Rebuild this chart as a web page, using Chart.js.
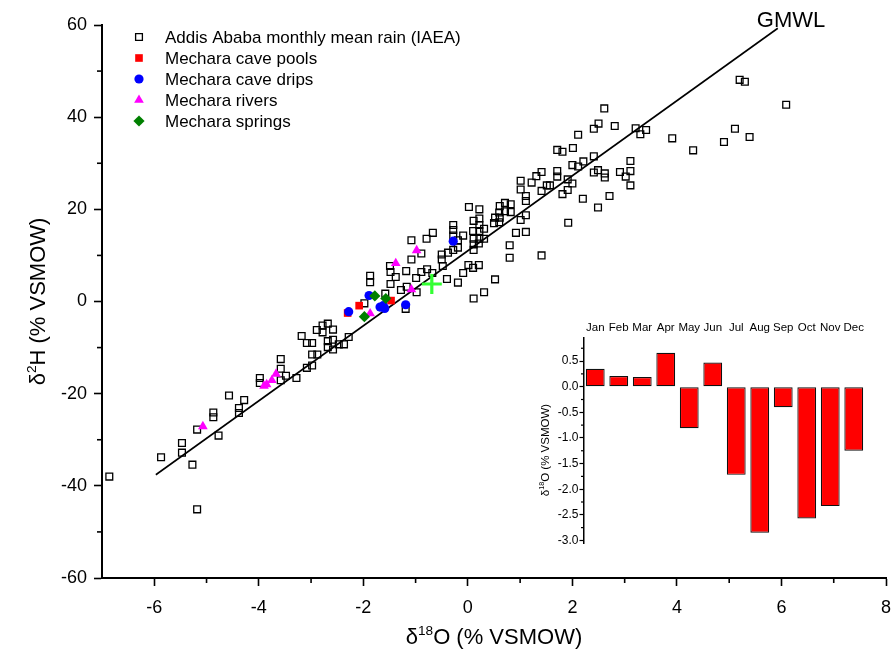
<!DOCTYPE html>
<html><head><meta charset="utf-8">
<script src="https://cdn.jsdelivr.net/npm/chart.js@4"></script>
<style>
html,body{margin:0;padding:0;background:#fff;}
#wrap{position:relative;width:892px;height:661px;}
#main{position:absolute;left:0;top:0;width:892px;height:661px;}
#inset{position:absolute;left:520px;top:310px;width:360px;height:240px;}
</style></head><body>
<div id="wrap"><canvas id="main" width="892" height="661"></canvas><canvas id="inset" width="360" height="240"></canvas></div>
<script>
// ---------- DATA ----------
const rainX = [-6.86,-5.87,-5.47,-5.47,-5.27,-5.18,-5.18,-4.77,-4.87,-4.87,-4.57,-4.38,-4.38,-4.28,-3.98,-3.98,-3.58,-3.58,-3.58,-3.48,-3.28,-3.18,-3.08,-2.98,-2.98,-2.88,-3.08,-2.98,-2.89,-2.78,-2.78,-2.68,-2.58,-2.68,-2.58,-2.68,-2.58,-2.47,-2.37,-2.28,
 -1.98,-1.87,-1.87,-1.58,-1.49,-1.48,-1.38,-1.48,-1.28,-1.18,-1.08,-1.08,-1.19,-0.99,-0.89,-0.89,-0.79,-0.67,-0.78,-0.68,-0.50,-0.50,-0.48,-0.40,-0.98,-1.17,
 -0.28,-0.28,-0.28,-0.09,-0.19,-0.19,-0.28,-0.38,0.01,0.10,0.21,-0.09,-0.19,0.02,0.22,0.22,0.11,0.22,0.31,0.10,0.22,0.11,0.22,0.31,0.11,0.21,0.11,
 0.61,0.71,0.82,0.71,0.82,0.60,0.52,0.61,0.50,0.60,0.80,0.80,0.52,0.31,0.11,1.01,1.01,1.11,1.11,1.11,1.01,1.11,0.92,1.22,1.41,1.31,1.51,1.41,1.41,1.57,
 1.71,1.71,1.91,2.00,1.91,1.81,1.92,1.71,1.81,2.01,2.00,2.11,2.21,2.41,2.49,2.41,2.62,2.62,2.49,2.20,2.11,2.41,2.50,2.61,2.81,3.21,3.30,3.41,3.11,2.91,3.02,3.11,3.11,2.71,
 3.91,4.31,4.90,5.11,5.39,5.20,5.30,6.09];
const rainY = [-38.0,-33.8,-30.7,-32.8,-35.4,-27.8,-45.1,-29.1,-24.1,-25.1,-20.4,-23.1,-24.2,-21.4,-16.6,-17.7,-12.5,-14.6,-17.1,-16.1,-16.6,-7.5,-9.0,-9.0,-11.5,-11.5,-14.4,-13.9,-6.2,-5.2,-6.7,-4.8,-6.1,-8.6,-8.3,-9.9,-10.4,-9.3,-9.3,-7.7,
 -0.4,5.6,4.2,1.7,7.7,6.4,5.3,3.8,2.5,6.6,9.1,13.3,-1.6,5.1,6.4,10.4,13.6,14.9,7.0,6.2,10.2,9.1,7.7,4.9,2.0,3.2,
 16.6,15.5,14.3,14.3,13.3,11.7,11.2,10.6,7.9,7.3,7.9,6.2,4.1,20.5,20.0,18.0,17.5,16.6,15.8,15.3,15.3,13.6,13.6,13.6,12.4,12.6,11.2,
 20.7,21.4,21.1,19.6,19.4,19.3,18.2,18.2,17.0,17.2,12.2,9.5,4.8,2.0,0.65,26.2,24.3,22.9,21.8,18.7,17.7,15.1,14.9,25.8,28.1,27.2,25.2,24.0,10.0,25.2,
 28.3,27.1,26.5,25.6,24.2,23.3,17.1,32.9,32.5,33.3,29.6,29.3,30.4,31.5,28.5,28.0,27.8,26.9,20.4,22.3,36.2,37.5,38.6,41.9,38.1,37.6,36.3,37.2,30.5,28.1,27.1,28.3,25.2,22.9,
 35.4,32.8,34.6,37.5,35.7,48.1,47.7,42.7];

const poolsX = [-2.30, -2.08, -1.47];
const poolsY = [-2.5, -0.9, 0.2];
const dripsX = [-2.28, -1.89, -1.68, -1.59, -1.62, -1.19, -0.28];
const dripsY = [-2.2, 1.3, -1.2, -1.5, -0.9, -0.7, 13.1];
const riversX = [-5.07, -3.90, -3.85, -3.75, -3.67, -1.87, -1.38, -0.98, -1.08];
const riversY = [-27.1, -18.3, -18.0, -17.1, -15.7, -2.6, 8.3, 11.1, 2.6];
const springsX = [-1.78, -1.57, -1.98];
const springsY = [1.2, 0.65, -3.3];
const meanX = [-0.69];
const meanY = [3.8];
const gmwlX = [-5.97, 5.93];
const gmwlY = [-37.6, 59.3];

const xTicks = [-6, -4, -2, 0, 2, 4, 6, 8];
const xMinorTicks = [-5, -3, -1, 1, 3, 5, 7];
const yTicks = [-60, -40, -20, 0, 20, 40, 60];
const yMinorTicks = [-50, -30, -10, 10, 30, 50];

const months = ['Jan','Feb','Mar','Apr','May','Jun','Jul','Aug','Sep','Oct','Nov','Dec'];
const monthlyO18 = [0.35, 0.21, 0.19, 0.66, -0.81, 0.47, -1.72, -2.85, -0.40, -2.57, -2.33, -1.25];
const insetTicks = [-3.0, -2.5, -2.0, -1.5, -1.0, -0.5, 0.0, 0.5];
const insetMinorTicks = [-2.75, -2.25, -1.75, -1.25, -0.75, -0.25, 0.25, 0.75];

// ---------- HELPERS ----------
const FONT = "'Liberation Sans', Arial, sans-serif";
Chart.defaults.font.family = FONT;
Chart.defaults.color = '#000';
const toPts = (xs, ys) => xs.map((x, i) => ({x: x, y: ys[i]}));

function drawSupText(ctx, parts, cx, cy, size, rot) {
  ctx.save();
  ctx.translate(cx, cy);
  if (rot) ctx.rotate(rot);
  ctx.fillStyle = '#000';
  ctx.textBaseline = 'alphabetic';
  ctx.textAlign = 'left';
  let total = 0;
  const ws = parts.map(p => {
    ctx.font = (p.sup ? size * 0.62 : size) + 'px ' + FONT;
    const w = ctx.measureText(p.t).width; total += w; return w;
  });
  let x = -total / 2;
  const base = size * 0.36;
  parts.forEach((p, i) => {
    ctx.font = (p.sup ? size * 0.62 : size) + 'px ' + FONT;
    ctx.fillText(p.t, x, p.sup ? base - size * 0.42 : base);
    x += ws[i];
  });
  ctx.restore();
}

function pointAt(ctx, style, radius, x, y, fill, stroke, bw) {
  ctx.save();
  ctx.fillStyle = fill; ctx.strokeStyle = stroke; ctx.lineWidth = bw;
  Chart.helpers.drawPoint(ctx, {pointStyle: style, radius: radius, rotation: 0, borderWidth: bw}, x, y);
  ctx.restore();
}

const series = [
  {label: 'Addis Ababa monthly mean rain (IAEA)', style: 'rect', r: 4.8, fill: 'rgba(0,0,0,0)', stroke: '#000', bw: 1.3},
  {label: 'Mechara cave pools', style: 'rect', r: 5.4, fill: '#ff0000', stroke: '#ff0000', bw: 0},
  {label: 'Mechara cave drips', style: 'circle', r: 4.6, fill: '#0000ff', stroke: '#0000ff', bw: 0},
  {label: 'Mechara rivers', style: 'triangle', r: 5.6, fill: '#ff00ff', stroke: '#ff00ff', bw: 0},
  {label: 'Mechara springs', style: 'rectRot', r: 5.6, fill: '#008000', stroke: '#008000', bw: 0}
];

const mainDecor = {
  id: 'mainDecor',
  afterDraw(chart) {
    const ctx = chart.ctx, xs = chart.scales.x, ys = chart.scales.y;
    const a = chart.chartArea;
    ctx.save();
    ctx.strokeStyle = '#000'; ctx.lineWidth = 1.6;
    xMinorTicks.forEach(v => { const px = xs.getPixelForValue(v); ctx.beginPath(); ctx.moveTo(px, a.bottom); ctx.lineTo(px, a.bottom + 5); ctx.stroke(); });
    yMinorTicks.forEach(v => { const py = ys.getPixelForValue(v); ctx.beginPath(); ctx.moveTo(a.left, py); ctx.lineTo(a.left - 5, py); ctx.stroke(); });
    ctx.restore();
    // axis titles
    drawSupText(ctx, [{t:'\u03B4'},{t:'18',sup:true},{t:'O (% VSMOW)'}], (a.left + a.right) / 2, 636, 22, 0);
    drawSupText(ctx, [{t:'\u03B4'},{t:'2',sup:true},{t:'H (% VSMOW)'}], 37, (a.top + a.bottom) / 2, 22, -Math.PI / 2);
    // GMWL label
    ctx.save();
    ctx.font = '22px ' + FONT; ctx.fillStyle = '#000'; ctx.textAlign = 'center'; ctx.textBaseline = 'alphabetic';
    ctx.fillText('GMWL', 791, 27);
    ctx.restore();
    // legend
    const rows = [37, 58, 79, 100, 121];
    series.forEach((s, i) => {
      pointAt(ctx, s.style, s.r, 139, rows[i], s.fill, s.stroke, s.bw);
      ctx.save();
      ctx.font = '17px ' + FONT; ctx.fillStyle = '#000'; ctx.textAlign = 'left'; ctx.textBaseline = 'middle';
      ctx.fillText(s.label, 165, rows[i] + 1);
      ctx.restore();
    });
  }
};

const ds = (s, xs, ys, ord) => ({label: s.label, data: toPts(xs, ys), pointStyle: s.style, pointRadius: s.r, pointHoverRadius: s.r,
  backgroundColor: s.fill, borderColor: s.stroke, borderWidth: s.bw, pointBorderWidth: s.bw, order: ord});

new Chart(document.getElementById('main'), {
  type: 'scatter',
  data: {datasets: [
    {label: 'GMWL', data: toPts(gmwlX, gmwlY), showLine: true, borderColor: '#000', borderWidth: 1.6, pointRadius: 0, order: 10},
    ds(series[0], rainX, rainY, 6),
    ds(series[1], poolsX, poolsY, 5),
    ds(series[2], dripsX, dripsY, 4),
    ds(series[3], riversX, riversY, 3),
    ds(series[4], springsX, springsY, 2),
    {label: 'mean', data: toPts(meanX, meanY), pointStyle: 'cross', pointRadius: 10, borderColor: '#33ff33', backgroundColor: '#33ff33', borderWidth: 3.2, order: 1}
  ]},
  options: {
    responsive: false, animation: false, events: [],
    layout: {padding: {left: 0, top: 25, right: 6, bottom: 0}, autoPadding: false},
    plugins: {legend: {display: false}, tooltip: {enabled: false}},
    scales: {
      x: {type: 'linear', min: -7, max: 8,
        afterFit(s) { s.height = 83; s.paddingLeft = 0; s.paddingRight = 0; },
        afterBuildTicks(s) { s.ticks = xTicks.map(v => ({value: v})); },
        grid: {display: true, drawOnChartArea: false, tickLength: 8, tickColor: '#000', tickWidth: 1.6},
        border: {display: true, color: '#000', width: 2},
        ticks: {font: {size: 18}, color: '#000', padding: 11, maxRotation: 0, autoSkip: false}},
      y: {type: 'linear', min: -60, max: 60,
        afterFit(s) { s.width = 102; s.paddingTop = 0; s.paddingBottom = 0; },
        afterBuildTicks(s) { s.ticks = yTicks.map(v => ({value: v})); },
        grid: {display: true, drawOnChartArea: false, tickLength: 8, tickColor: '#000', tickWidth: 1.6},
        border: {display: true, color: '#000', width: 2},
        ticks: {font: {size: 18}, color: '#000', padding: 7, autoSkip: false}}
    }
  },
  plugins: [mainDecor]
});

const insetDecor = {
  id: 'insetDecor',
  afterDraw(chart) {
    const ctx = chart.ctx, ys = chart.scales.y, a = chart.chartArea;
    ctx.save();
    ctx.strokeStyle = '#000'; ctx.lineWidth = 1.2;
    insetMinorTicks.forEach(v => { const py = ys.getPixelForValue(v); ctx.beginPath(); ctx.moveTo(a.left, py); ctx.lineTo(a.left - 2.5, py); ctx.stroke(); });
    ctx.restore();
    drawSupText(ctx, [{t:'\u03B4'},{t:'18',sup:true},{t:'O (% VSMOW)'}], 25, 140, 11.5, -Math.PI / 2);
  }
};

new Chart(document.getElementById('inset'), {
  type: 'bar',
  data: {labels: months, datasets: [{data: monthlyO18, backgroundColor: '#ff0000', borderColor: '#111', borderWidth: 1.2, borderSkipped: false,
    categoryPercentage: 1, barPercentage: 0.8}]},
  options: {
    responsive: false, animation: false, events: [],
    layout: {padding: {left: 0, top: 0, right: 14.5, bottom: 7}, autoPadding: false},
    plugins: {legend: {display: false}, tooltip: {enabled: false}},
    scales: {
      x: {position: 'top', afterFit(s) { s.height = 28; s.paddingLeft = 0; s.paddingRight = 0; },
        grid: {display: false, drawTicks: false, tickLength: 0}, border: {display: false},
        ticks: {font: {size: 11.5}, color: '#000', padding: 3, maxRotation: 0, autoSkip: false}},
      y: {min: -3.05, max: 0.95,
        afterFit(s) { s.width = 63.5; s.paddingTop = 0; s.paddingBottom = 0; },
        afterBuildTicks(s) { s.ticks = insetTicks.map(v => ({value: v})); },
        grid: {display: true, drawOnChartArea: false, tickLength: 4, tickColor: '#000', tickWidth: 1.2},
        border: {display: true, color: '#000', width: 1.5},
        ticks: {font: {size: 12}, color: '#000', padding: 1, autoSkip: false, callback: v => Number(v).toFixed(1)}}
    }
  },
  plugins: [insetDecor]
});
</script>
</body></html>
